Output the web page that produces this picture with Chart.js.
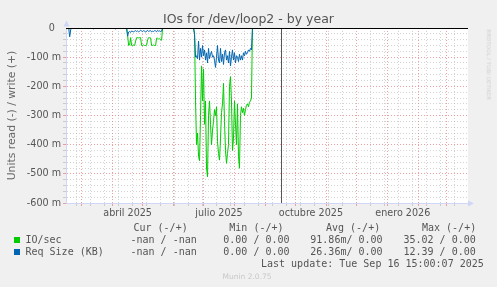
<!DOCTYPE html>
<html lang="es">
<head>
  <meta charset="UTF-8">
  <title>IOs for /dev/loop2 - by year</title>
  <script src="https://cdn.jsdelivr.net/npm/chart.js"></script>
  <style>
    body {
      margin: 0;
      background: #f0f0f0;
      font-family: 'DejaVu Sans', sans-serif;
      color: #555;
    }
    #wrap {
      position: relative;
      width: 497px;
      height: 287px;
      overflow: hidden;
    }
    #wrap canvas {
      position: absolute;
      left: 0;
      top: 0;
    }
    .t {
      position: absolute;
      white-space: pre;
      line-height: 1;
    }
    .mono {
      font-family: 'DejaVu Sans Mono', monospace;
      font-size: 10px;
    }
    .sq {
      position: absolute;
      width: 6px;
      height: 6px;
    }
  </style>
</head>
<body>
  <div id="wrap">
    <canvas id="ioChart" width="497" height="287"></canvas>

    <div class="t" style="left:0; width:497px; text-align:center; top:12.5px; font-size:12.5px;">IOs for /dev/loop2 - by year</div>
    <div class="t" style="left:-89px; width:201px; height:13px; text-align:center; top:109px; line-height:13px; font-size:10.8px; color:#666; transform:rotate(-90deg);">Units read (-) / write (+)</div>
    <div class="t" style="left:438px; width:100px; text-align:center; top:62px; font-size:5.5px; color:#d0d0d0; transform:rotate(90deg);">RRDTOOL / TOBI OETIKER</div>

    <div class="t mono" style="left:133.5px; top:223.3px;">Cur (-/+)</div>
    <div class="t mono" style="left:229.3px; top:223.3px;">Min (-/+)</div>
    <div class="t mono" style="left:326px; top:223.3px;">Avg (-/+)</div>
    <div class="t mono" style="left:422px; top:223.3px;">Max (-/+)</div>

    <div class="sq" style="left:14px; top:236.5px; background:#00cc00;"></div>
    <div class="t mono" style="left:25.5px; top:235.3px;">IO/sec</div>
    <div class="t mono" style="left:130.5px; top:235.3px;">-nan / -nan</div>
    <div class="t mono" style="left:223.3px; top:235.3px;">0.00 / 0.00</div>
    <div class="t mono" style="left:310.3px; top:235.3px;">91.86m/ 0.00</div>
    <div class="t mono" style="left:403.5px; top:235.3px;">35.02 / 0.00</div>

    <div class="sq" style="left:14px; top:248.5px; background:#0066b3;"></div>
    <div class="t mono" style="left:25.5px; top:247.3px;">Req Size (KB)</div>
    <div class="t mono" style="left:130.5px; top:247.3px;">-nan / -nan</div>
    <div class="t mono" style="left:223.3px; top:247.3px;">0.00 / 0.00</div>
    <div class="t mono" style="left:310.3px; top:247.3px;">26.36m/ 0.00</div>
    <div class="t mono" style="left:403.5px; top:247.3px;">12.39 / 0.00</div>

    <div class="t mono" style="left:261px; top:259.3px;">Last update: Tue Sep 16 15:00:07 2025</div>
    <div class="t" style="left:222.5px; top:272.5px; font-size:7.5px; color:#c8c8c8;">Munin 2.0.75</div>
  </div>

  <script>
    // x values are days counted from 2025-01-01 (day 0)
    const xMin = 43.3;
    const xMax = 445.8;
    const nowDay = 258.6; // Sep 16 2025, 15:00

    const monthStarts = [59, 90, 120, 151, 181, 212, 243, 273, 304, 334, 365, 396, 424];
    const quarterDays = [105, 196.5, 288.5, 380.5];
    const quarterLabels = ['abril 2025', 'julio 2025', 'octubre 2025', 'enero 2026'];

    // small blips early in the period
    const earlyDays = [44, 46, 47, 48, 49, 70, 71, 72, 92, 93, 94];
    const earlyIoSec = [0, 0, -4, -2, 0, 0, -2, 0, 0, -2, 0];
    const earlyReqSize = [0, 0, -30, -6, 0, 0, -3, 0, 0, -3, 0];

    // daily values from day 104 (mid April) on, in milli-units
    const springStart = 104;
    const springIoSec = [0, -25, -60, -58, -33, -60, -60, -58, -60, -45, -33, -33, -34, -33, -33, -60, -60, -58, -60,
      -60, -59, -40, -33, -33, -34, -60, -60, -58, -60, -60, -35, -35, -38, -37, -40, -42, 0];
    const springReqSize = [0, -28, -14, -12, -15, -10, -12, -13, -11, -9, -12, -10, -13, -11, -8, -10, -12, -9, -11,
      -14, -10, -8, -12, -10, -9, -13, -11, -12, -9, -10, -13, -8, -11, -10, -12, -11, 0];

    // daily values from day 171 (late June) on
    const summerStart = 171;
    const summerIoSec = [0, -20, -250, -400, -360, -440, -455, -300, -130, -250, -140, -330, -250, -480, -510, -300,
      -250, -330, -400, -350, -320, -280, -300, -270, -390, -430, -453, -380, -290, -260, -190, -320, -420, -464,
      -430, -400, -200, -167, -250, -420, -380, -250, -330, -400, -260, -440, -481, -300, -270, -290, -275, -300,
      -280, -265, -260, -270, -255, -250, -240, 0];
    const summerReqSize = [0, -20, -100, -95, -105, -45, -110, -70, -100, -60, -95, -75, -110, -85, -120, -70, -105,
      -90, -80, -100, -95, -110, -135, -100, -60, -110, -120, -70, -115, -90, -125, -85, -75, -110, -95, -120, -80,
      -130, -100, -75, -110, -85, -120, -95, -100, -115, -90, -110, -95, -110, -85, -95, -80, -90, -85, -75, -80,
      -70, -75, 0];

    const lastDay = 258;

    function toPoints(early, spring, summer) {
      const pts = earlyDays.map((d, i) => ({ x: d, y: early[i] }));
      spring.forEach((v, i) => pts.push({ x: springStart + i, y: v }));
      summer.forEach((v, i) => pts.push({ x: summerStart + i, y: v }));
      pts.push({ x: lastDay, y: 0 });
      return pts;
    }

    // x grid: month starts (red), every other Monday (grey), label positions (no line)
    const minorDays = [];
    for (let d = 54; d < xMax; d += 14) minorDays.push(d);
    const xTickValues = [...new Set([...minorDays, ...monthStarts, ...quarterDays])].sort((a, b) => a - b);

    const RED = 'rgba(232, 120, 120, 0.7)';
    const GREY = 'rgba(150, 150, 150, 0.42)';
    const AXIS = '#cfd6f8';

    function xGridColor(v) {
      if (monthStarts.includes(v)) return RED;
      if (minorDays.includes(v)) return GREY;
      return 'transparent';
    }
    function yGridColor(v) {
      if (v === 0) return 'transparent';
      return Math.round(v) % 100 === 0 ? RED : GREY;
    }

    const muninPlugin = {
      id: 'munin',
      beforeDraw(chart) {
        const a = chart.chartArea;
        const ctx = chart.ctx;
        ctx.save();
        ctx.fillStyle = '#ffffff';
        ctx.fillRect(a.left, a.top, a.right - a.left, a.bottom - a.top);
        ctx.restore();
      },
      afterDatasetsDraw(chart) {
        const a = chart.chartArea;
        const ctx = chart.ctx;
        const y0 = Math.round(chart.scales.y.getPixelForValue(0)) + 0.5;
        const xn = Math.floor(chart.scales.x.getPixelForValue(nowDay)) + 0.5;
        ctx.save();
        ctx.lineWidth = 1;
        ctx.strokeStyle = '#555';
        ctx.beginPath();
        ctx.moveTo(xn, a.top);
        ctx.lineTo(xn, a.bottom);
        ctx.stroke();
        ctx.strokeStyle = '#000';
        ctx.beginPath();
        ctx.moveTo(a.left, y0);
        ctx.lineTo(a.right, y0);
        ctx.stroke();
        // axis arrows
        ctx.fillStyle = AXIS;
        ctx.beginPath();
        ctx.moveTo(a.left + 0.5, a.top - 7.5);
        ctx.lineTo(a.left - 2.5, a.top - 1.5);
        ctx.lineTo(a.left + 3.5, a.top - 1.5);
        ctx.closePath();
        ctx.fill();
        ctx.beginPath();
        ctx.moveTo(a.right + 6, a.bottom + 0.5);
        ctx.lineTo(a.right, a.bottom - 2.5);
        ctx.lineTo(a.right, a.bottom + 3.5);
        ctx.closePath();
        ctx.fill();
        ctx.restore();
      }
    };

    const tickFont = { family: 'DejaVu Sans', size: 9.6 };

    new Chart(document.getElementById('ioChart'), {
      type: 'line',
      data: {
        datasets: [
          {
            label: 'Req Size (KB)',
            data: toPoints(earlyReqSize, springReqSize, summerReqSize),
            borderColor: '#0066b3',
            borderWidth: 1,
            pointRadius: 0,
            tension: 0,
            order: 0
          },
          {
            label: 'IO/sec',
            data: toPoints(earlyIoSec, springIoSec, summerIoSec),
            borderColor: '#00cc00',
            borderWidth: 1,
            pointRadius: 0,
            tension: 0,
            order: 1
          }
        ]
      },
      options: {
        responsive: false,
        animation: false,
        devicePixelRatio: 1,
        layout: { padding: { top: 28, right: 29, bottom: 0, left: 0 } },
        plugins: {
          legend: { display: false },
          tooltip: { enabled: false }
        },
        scales: {
          x: {
            type: 'linear',
            min: xMin,
            max: xMax,
            bounds: 'data',
            afterBuildTicks: (scale) => {
              scale.ticks = xTickValues.map(v => ({ value: v }));
            },
            afterFit: (scale) => { scale.height = 84; },
            ticks: {
              autoSkip: false,
              maxRotation: 0,
              padding: 2,
              color: '#555',
              font: tickFont,
              callback: (v) => {
                const i = quarterDays.indexOf(v);
                return i >= 0 ? quarterLabels[i] : '';
              }
            },
            grid: {
              color: (ctx) => xGridColor(ctx.tick ? ctx.tick.value : null),
              tickColor: (ctx) => xGridColor(ctx.tick ? ctx.tick.value : null),
              tickLength: 3,
              lineWidth: 1
            },
            border: { color: AXIS, dash: [1, 2] }
          },
          y: {
            min: -600,
            max: 0,
            afterFit: (scale) => { scale.width = 66; },
            ticks: {
              stepSize: 20,
              autoSkip: false,
              padding: 2,
              color: '#555',
              font: tickFont,
              callback: (v) => {
                if (v === 0) return '0\u00a0\u00a0';
                return Math.round(v) % 100 === 0 ? v + ' m' : '';
              }
            },
            grid: {
              color: (ctx) => yGridColor(ctx.tick ? ctx.tick.value : null),
              tickColor: (ctx) => yGridColor(ctx.tick ? ctx.tick.value : null),
              tickLength: 3,
              lineWidth: 1
            },
            border: { color: AXIS, dash: [1, 2] }
          }
        }
      },
      plugins: [muninPlugin]
    });
  </script>
</body>
</html>
